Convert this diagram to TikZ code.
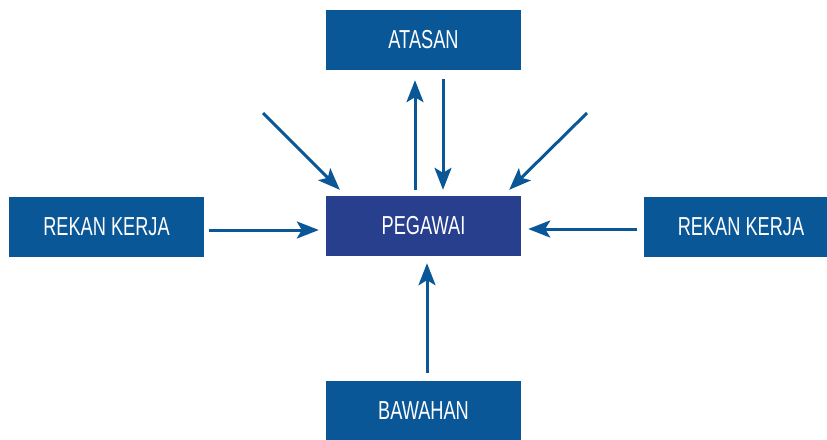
\documentclass[tikz,border=0pt]{standalone}
\usepackage{fontspec}
\setmainfont[FakeStretch=0.7]{Liberation Sans}
\usetikzlibrary{arrows.meta,calc}
\definecolor{boxblue}{HTML}{0A5798}
\definecolor{mainblue}{HTML}{283F8E}
\begin{document}
\begin{tikzpicture}[x=1pt,y=-1pt,
  role/.style={fill=boxblue, text=white, minimum width=195pt, minimum height=60pt,
    inner sep=0pt, font=\fontsize{26}{28}\selectfont},
  flow/.style={draw=boxblue, line width=3pt,
    -{Stealth[length=22pt, width=17pt, inset=5pt]}}]
  \useasboundingbox (0,0) rectangle (827,439);
  \clip (0,0) rectangle (827,439);
  % boxes
  \node[role] (atasan) at (423.5,40) {ATASAN};
  \node[role, fill=mainblue] (pegawai) at (423.5,226) {PEGAWAI};
  \node[role] (bawahan) at (423.5,411) {BAWAHAN};
  \node[role] (kiri) at (106.5,226.5) {REKAN KERJA};
  \node[role] (kanan) at (741,226.5) {REKAN KERJA};
  % free ends of the diagonal arrows
  \coordinate (dl) at (263,113);
  \coordinate (dr) at (587,113);
  % connectors
  \draw[flow] ($(pegawai.north)+(-8.5,-6)$) -- ($(atasan.south)+(-8.5,10)$);
  \draw[flow] ($(atasan.south)+(19.5,9)$) -- ($(pegawai.north)+(19.5,-6)$);
  \draw[flow] (dl) -- ($(pegawai.north west)+(14,-6)$);
  \draw[flow] (dr) -- ($(pegawai.north east)+(-12,-6)$);
  \draw[flow] ($(kiri.east)+(5,3.5)$) -- ($(pegawai.west)+(-7,4)$);
  \draw[flow] ($(kanan.west)+(-6,2.5)$) -- ($(pegawai.east)+(7,3)$);
  \draw[flow] ($(bawahan.north)+(3.5,-8)$) -- ($(pegawai.south)+(3.5,7)$);
\end{tikzpicture}
\end{document}
